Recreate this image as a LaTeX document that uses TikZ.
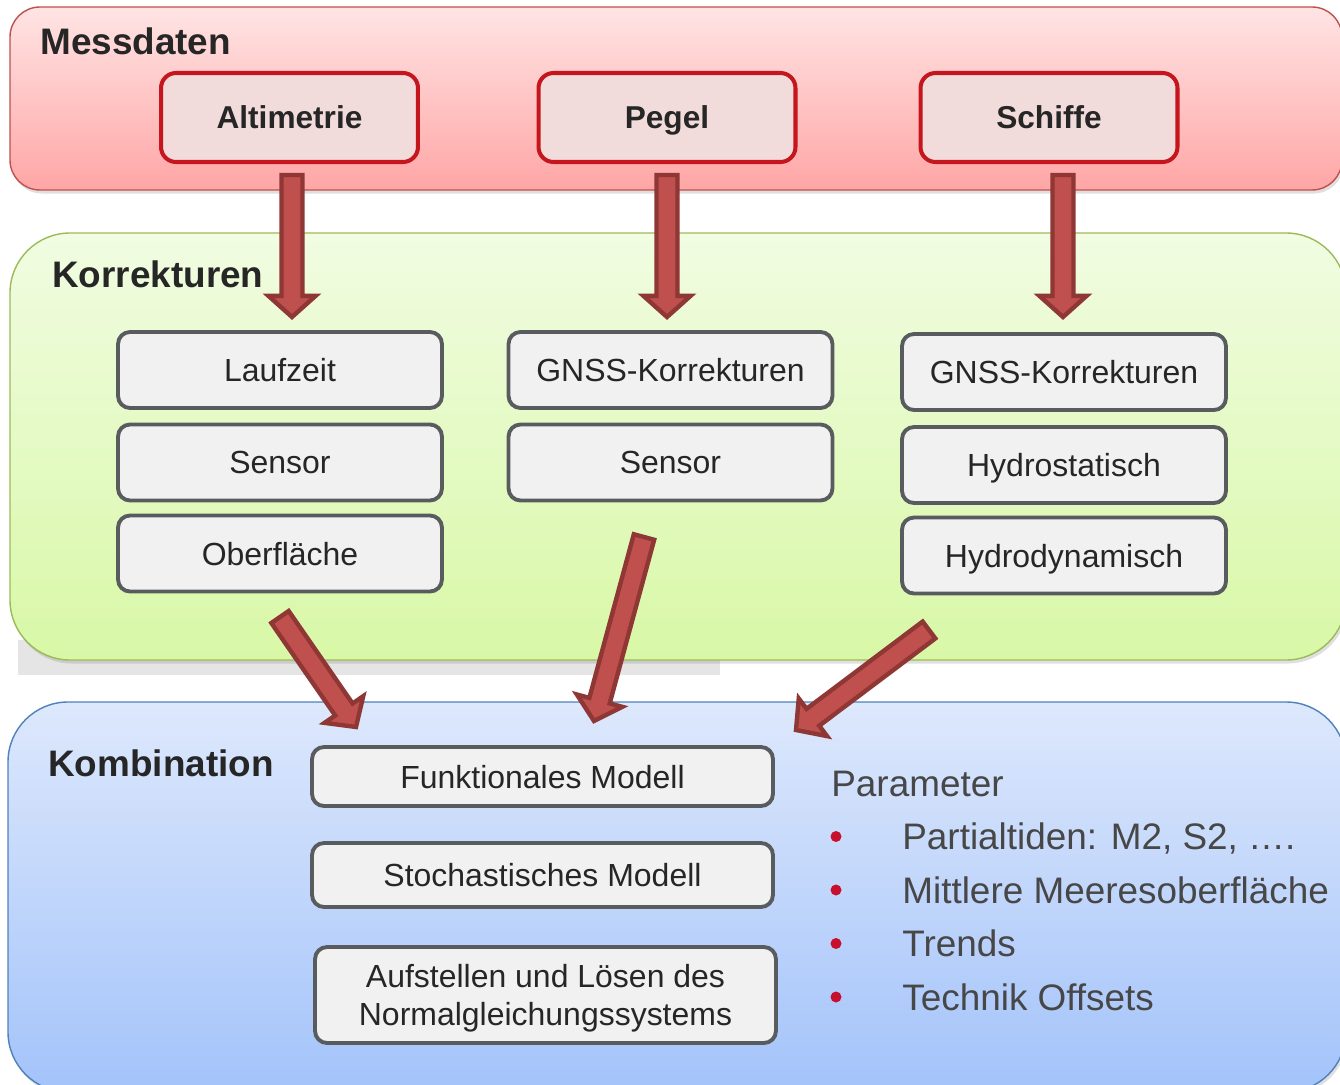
\documentclass[tikz,border=0pt]{standalone}
\usepackage{fontspec}
\setmainfont{Liberation Sans}
\usetikzlibrary{calc}
\usetikzlibrary{shadows}
\definecolor{redline}{HTML}{C0504D}
\definecolor{redtop}{HTML}{FFE4E4}
\definecolor{redbot}{HTML}{FFA6A6}
\definecolor{greenline}{HTML}{9BBB59}
\definecolor{greentop}{HTML}{F1FCE2}
\definecolor{greenbot}{HTML}{D8F8A6}
\definecolor{blueline}{HTML}{4F81BD}
\definecolor{bluetop}{HTML}{DDE8FC}
\definecolor{bluebot}{HTML}{A3C3FA}
\definecolor{boxred}{HTML}{C4161C}
\definecolor{boxpink}{HTML}{F2DCDB}
\definecolor{boxgray}{HTML}{F1F1F1}
\definecolor{boxline}{HTML}{595C5F}
\definecolor{arrowred}{HTML}{C0504D}
\definecolor{arrowdark}{HTML}{8E3735}
\definecolor{txt}{HTML}{262626}
\definecolor{partxt}{HTML}{474747}
\definecolor{dotred}{HTML}{C8102E}
\tikzset{
  panel/.style={rounded corners=1.2cm, line width=0.8pt,
    drop shadow={opacity=0.25, shadow xshift=1pt, shadow yshift=-2pt}},
  title/.style={anchor=base west, inner sep=0pt, text=txt,
    font=\fontsize{21}{25}\selectfont\bfseries},
  redbox/.style={draw=boxred, fill=boxpink, line width=2.3pt,
    rounded corners=0.3cm, minimum width=5.14cm, minimum height=1.78cm,
    text depth=0pt, text=txt, font=\fontsize{18}{21}\selectfont\bfseries},
  graybox/.style={draw=boxline, fill=boxgray, line width=2.2pt,
    rounded corners=0.24cm, minimum width=6.48cm, minimum height=1.52cm,
    text depth=0pt, text=txt, font=\fontsize{18.2}{22}\selectfont},
  wide/.style={graybox, minimum width=9.22cm, align=center},
  partext/.style={anchor=base west, inner sep=0pt, text=partxt,
    font=\fontsize{21}{25}\selectfont},
  dot/.style={circle, fill=dotred, inner sep=0pt, minimum size=0.22cm},
  bigarrow/.style={fill=arrowred, draw=arrowdark, line width=2.5pt, line join=miter},
}
% block arrow between two named coordinates
\newcommand{\blockarr}[2]{%
  \draw[bigarrow] let \p1=(#1), \p2=(#2),
    \n1={atan2(\y2-\y1,\x2-\x1)}, \n2={veclen(\x2-\x1,\y2-\y1)} in
    ($(\p1)+(\n1+90:6pt)$)
    -- ($(\p1)+(\n1:{\n2-12pt})+(\n1+90:6pt)$)
    -- ($(\p1)+(\n1:{\n2-12pt})+(\n1+90:13.4pt)$)
    -- (\p2)
    -- ($(\p1)+(\n1:{\n2-12pt})+(\n1-90:13.4pt)$)
    -- ($(\p1)+(\n1:{\n2-12pt})+(\n1-90:6pt)$)
    -- ($(\p1)+(\n1-90:6pt)$) -- cycle;}

\begin{document}
\begin{tikzpicture}[x=0.02cm, y=-0.02cm]
\useasboundingbox (0,0) rectangle (1340,1085);
\clip (0,0) rectangle (1340,1085);

% panels
\draw[panel, rounded corners=0.6cm, draw=redline, top color=redtop, bottom color=redbot] (10,7) rectangle (1342,190);
\fill[gray!20] (18,640) rectangle (720,675);
\draw[panel, draw=greenline, top color=greentop, bottom color=greenbot] (10,233) rectangle (1346,660);
\draw[panel, draw=blueline, top color=bluetop, bottom color=bluebot] (8,702) rectangle (1346,1092);

\node[title] (mess) at (40,54) {Messdaten};
\node[title] (korr) at (52,287) {Korrekturen};
\node[title] (komb) at (48,776) {Kombination};

% Messdaten
\node[redbox] (alt) at (289.5,117.5) {Altimetrie};
\node[redbox] (pegel) at (667,117.5) {Pegel};
\node[redbox] (schiff) at (1049,117.5) {Schiffe};

% Korrekturen
\node[graybox] (lauf) at (280,370) {Laufzeit};
\node[graybox] (sensA) at (280,462.5) {Sensor};
\node[graybox] (oberf) at (280,553.5) {Oberfläche};
\node[graybox] (gnssA) at (670.5,370) {GNSS-Korrekturen};
\node[graybox] (sensB) at (670.5,462.5) {Sensor};
\node[graybox] (gnssB) at (1064,372) {GNSS-Korrekturen};
\node[graybox] (hstat) at (1064,465) {Hydrostatisch};
\node[graybox] (hdyn) at (1064,555.5) {Hydrodynamisch};

% Kombination
\node[wide, minimum height=1.18cm] (fmod) at (542.5,776.5) {Funktionales Modell};
\node[wide, minimum height=1.28cm] (smod) at (542.5,875) {Stochastisches Modell};
\node[wide, minimum height=1.92cm] (ngl) at (545.5,995)
  {Aufstellen und Lösen des\\Normalgleichungssystems};

\node[partext] (par) at (831,796) {Parameter};
\foreach \t [count=\i] in {{Partialtiden: M2, S2, ….}, Mittlere Meeresoberfläche, Trends, Technik Offsets}{
  \node[partext] (par\i) at (902,{796+53.5*\i}) {\t};
  \node[dot] (dot\i) at (836,{783+53.5*\i}) {};
}

% arrows
\coordinate (altS) at (292,175);  \coordinate (altE) at (292,317);
\coordinate (pegS) at (667,175);  \coordinate (pegE) at (667,317);
\coordinate (schS) at (1063,175); \coordinate (schE) at (1063,317);
\coordinate (lS) at (280,617); \coordinate (lE) at (356,727);
\coordinate (mS) at (644,537); \coordinate (mE) at (594,721);
\coordinate (rS) at (929,630); \coordinate (rE) at (796,730);
\blockarr{altS}{altE}
\blockarr{pegS}{pegE}
\blockarr{schS}{schE}
\blockarr{lS}{lE}
\blockarr{mS}{mE}
\blockarr{rS}{rE}
\end{tikzpicture}
\end{document}
